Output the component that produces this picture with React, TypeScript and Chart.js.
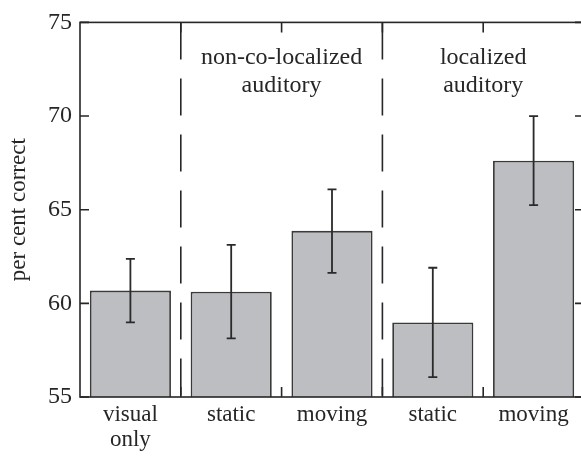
import React, { useEffect, useRef } from "react";
import { Chart, registerables } from "chart.js";

Chart.register(...registerables);

const categories: (string | string[])[] = [["visual", "only"], "static", "moving", "static", "moving"];
const meanValues = [60.68, 60.62, 63.87, 58.98, 67.62];
const errorUpper = [62.37, 63.12, 66.09, 61.9, 70.0];
const errorLower = [58.98, 58.13, 61.63, 56.06, 65.24];
const yTicks = [55, 60, 65, 70, 75];
const groupLabels = [
  { from: 1, to: 2, lines: ["non-co-localized", "auditory"] },
  { from: 3, to: 4, lines: ["localized", "auditory"] },
];
const dividerAfter = [0, 2];

const FONT = "'Liberation Serif', 'DejaVu Serif', serif";
const INK = "#262626";

const decorPlugin = {
  id: "decor",
  afterDatasetsDraw(chart: any) {
    const { ctx, chartArea, scales } = chart;
    const x = scales.x;
    const y = scales.y;
    const { left, right, top, bottom } = chartArea;
    ctx.save();
    // error bars
    ctx.strokeStyle = "#2a2a2a";
    ctx.lineWidth = 1.8;
    meanValues.forEach((_, i) => {
      const cx = x.getPixelForValue(i);
      const yu = y.getPixelForValue(errorUpper[i]);
      const yl = y.getPixelForValue(errorLower[i]);
      ctx.beginPath();
      ctx.moveTo(cx, yu);
      ctx.lineTo(cx, yl);
      ctx.moveTo(cx - 4.5, yu);
      ctx.lineTo(cx + 4.5, yu);
      ctx.moveTo(cx - 4.5, yl);
      ctx.lineTo(cx + 4.5, yl);
      ctx.stroke();
    });
    const boundary = (i: number) => (x.getPixelForValue(i) + x.getPixelForValue(i + 1)) / 2;
    // dashed dividers
    ctx.strokeStyle = INK;
    ctx.lineWidth = 1.6;
    ctx.setLineDash([37, 19]);
    dividerAfter.forEach((i) => {
      const bx = boundary(i);
      ctx.beginPath();
      ctx.moveTo(bx, top);
      ctx.lineTo(bx, bottom);
      ctx.stroke();
    });
    ctx.setLineDash([]);
    // frame
    ctx.lineWidth = 1.6;
    ctx.strokeRect(left, top, right - left, bottom - top);
    // x ticks (inward, top and bottom)
    ctx.beginPath();
    for (let i = 0; i < categories.length - 1; i++) {
      const bx = boundary(i);
      ctx.moveTo(bx, bottom);
      ctx.lineTo(bx, bottom - 10);
      ctx.moveTo(bx, top);
      ctx.lineTo(bx, top + 10);
    }
    // y ticks (inward, left and right)
    yTicks.forEach((v) => {
      const py = y.getPixelForValue(v);
      ctx.moveTo(left, py);
      ctx.lineTo(left + 9, py);
      ctx.moveTo(right, py);
      ctx.lineTo(right - 9, py);
    });
    ctx.stroke();
    // group annotations
    ctx.fillStyle = INK;
    ctx.font = `24px ${FONT}`;
    ctx.textAlign = "center";
    ctx.textBaseline = "alphabetic";
    groupLabels.forEach((g) => {
      const l = boundary(g.from - 1);
      const r = g.to >= categories.length - 1 ? right : boundary(g.to);
      const cx = (l + r) / 2;
      g.lines.forEach((t, k) => {
        ctx.fillText(t, cx, top + 42 + k * 28);
      });
    });
    ctx.restore();
  },
};

export default function App() {
  const ref = useRef<HTMLCanvasElement | null>(null);
  useEffect(() => {
    if (!ref.current) return;
    const chart = new Chart(ref.current, {
      type: "bar",
      data: {
        labels: categories,
        datasets: [
          {
            data: meanValues,
            backgroundColor: "#bdbec1",
            borderColor: "#3a3a3a",
            borderWidth: 1.8,
            borderSkipped: false,
            categoryPercentage: 1,
            barPercentage: 0.805,
          },
        ],
      },
      options: {
        animation: false,
        responsive: false,
        layout: { padding: { top: 20, right: 0, left: 0, bottom: 0 } },
        plugins: { legend: { display: false }, tooltip: { enabled: false } },
        scales: {
          x: {
            grid: { display: false, drawTicks: false },
            border: { display: false },
            ticks: {
              color: INK,
              padding: 5,
              font: { family: FONT, size: 23, lineHeight: 1.09 },
              maxRotation: 0,
              autoSkip: false,
            },
            afterFit: (s: any) => {
              s.height = 60;
            },
          },
          y: {
            min: 55,
            max: 75,
            grid: { display: false, drawTicks: false },
            border: { display: false },
            afterBuildTicks: (s: any) => {
              s.ticks = yTicks.map((v) => ({ value: v }));
            },
            ticks: {
              color: INK,
              padding: 8,
              font: { family: FONT, size: 24 },
            },
            title: {
              display: true,
              text: "per cent correct",
              color: INK,
              font: { family: FONT, size: 23 },
              padding: { top: 5, bottom: 0 },
            },
            afterFit: (s: any) => {
              s.width = 80;
            },
          },
        },
      },
      plugins: [decorPlugin],
    });
    return () => chart.destroy();
  }, []);
  return (
    <div style={{ position: "absolute", left: 0, top: 0, width: 581, height: 457, overflow: "hidden", background: "#fff" }}>
      <canvas ref={ref} width={584} height={457} style={{ display: "block" }} />
    </div>
  );
}
